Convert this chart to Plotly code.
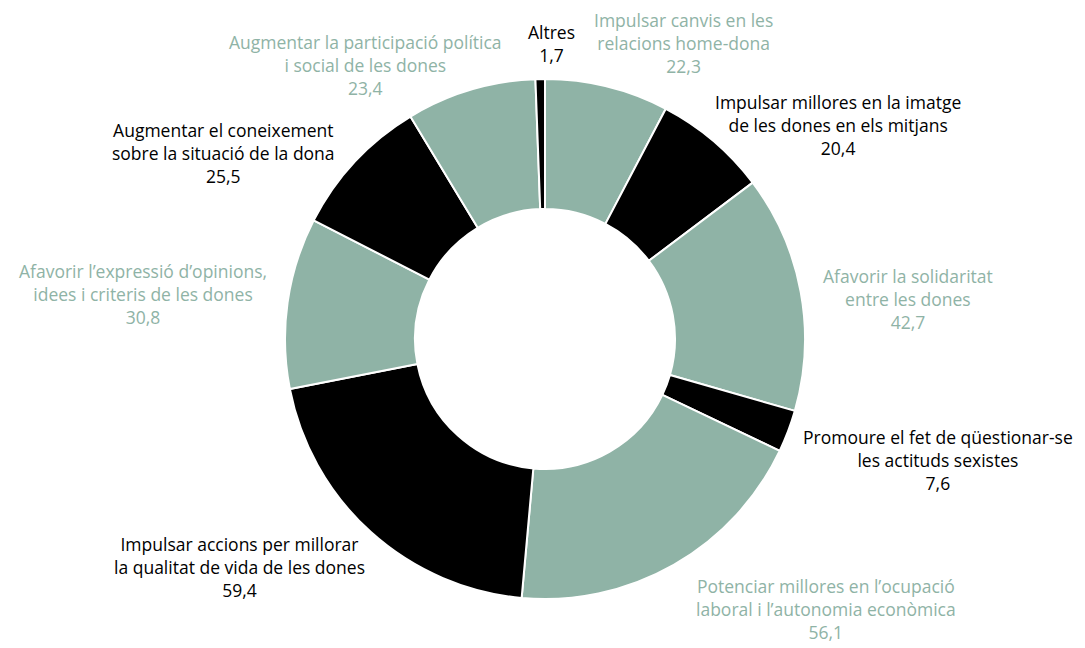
import plotly.graph_objects as go

# Dades (percentatges), en ordre horari des de les 12
etiquetes = [
    "Impulsar canvis en les<br>relacions home-dona",
    "Impulsar millores en la imatge<br>de les dones en els mitjans",
    "Afavorir la solidaritat<br>entre les dones",
    "Promoure el fet de qüestionar-se<br>les actituds sexistes",
    "Potenciar millores en l’ocupació<br>laboral i l’autonomia econòmica",
    "Impulsar accions per millorar<br>la qualitat de vida de les dones",
    "Afavorir l’expressió d’opinions,<br>idees i criteris de les dones",
    "Augmentar el coneixement<br>sobre la situació de la dona",
    "Augmentar la participació política<br>i social de les dones",
    "Altres",
]
valors = [22.3, 20.4, 42.7, 7.6, 56.1, 59.4, 30.8, 25.5, 23.4, 1.7]

W, H = 1085, 648
VERD = "#8fb3a6"
NEGRE = "#000000"
colors = [VERD if i % 2 == 0 else NEGRE for i in range(len(valors))]

# posicions de les etiquetes (centre del bloc de text, en píxels)
pos_etiquetes = [
    (675, 35), (830, 117), (900, 291), (930, 452), (818, 601),
    (231, 559), (135, 286), (215, 145), (357, 57), (543, 35),
]

fig = go.Figure()
fig.add_trace(go.Pie(
    values=valors,
    labels=[e.replace("<br>", " ") for e in etiquetes],
    hole=0.5,
    sort=False,
    direction="clockwise",
    rotation=0,
    marker=dict(colors=colors, line=dict(color="white", width=2)),
    textinfo="none",
    hoverinfo="label+value",
    showlegend=False,
    domain=dict(x=[277 / W, 797 / W], y=[(H - 591) / H, (H - 71) / H]),
))

for etiqueta, valor, color, (px, py) in zip(etiquetes, valors, colors, pos_etiquetes):
    fig.add_annotation(
        x=px / W, y=1 - py / H, xref="paper", yref="paper",
        text=f"{etiqueta}<br>{valor:.1f}".replace(".", ","),
        showarrow=False, xanchor="center", yanchor="middle", align="center",
        font=dict(color=color, size=17.5, family="Open Sans, Arial, sans-serif"),
    )

fig.update_layout(
    width=W, height=H,
    margin=dict(l=0, r=0, t=0, b=0),
    paper_bgcolor="white", plot_bgcolor="white",
)

fig.write_html("out.html")
